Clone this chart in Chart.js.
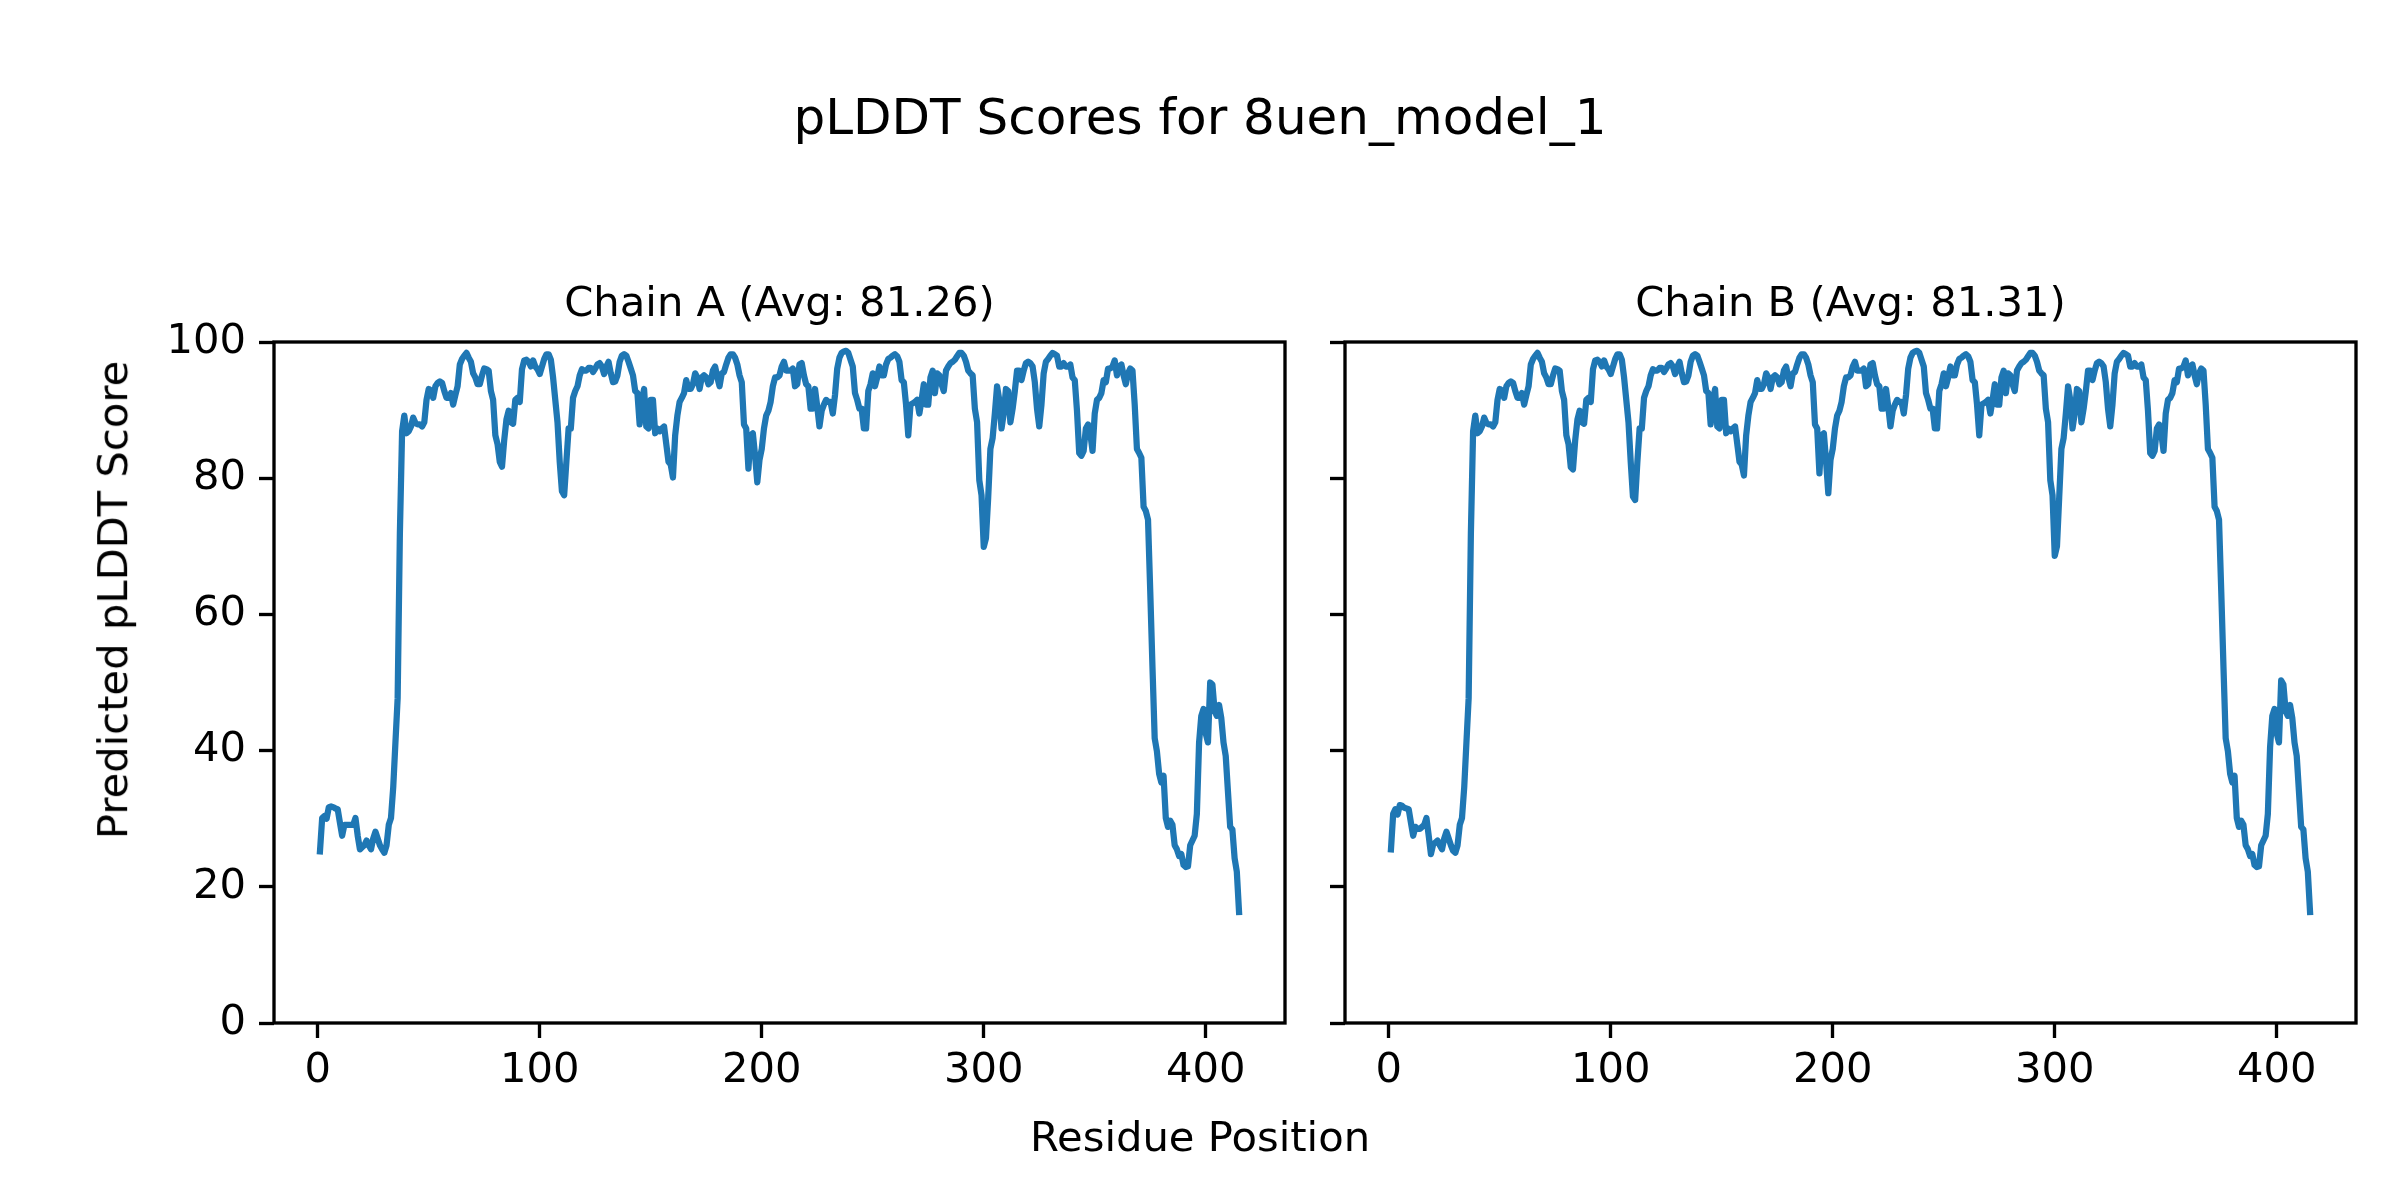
<!DOCTYPE html>
<html lang="en">
<head>
    <meta charset="UTF-8">
    <title>pLDDT Scores for 8uen_model_1</title>
    <script src="https://cdn.jsdelivr.net/npm/chart.js"></script>
</head>
<body>
<div id="figure">
    <div class="txt" id="suptitle">pLDDT Scores for 8uen_model_1</div>
    <div class="txt sub" id="titleA">Chain A (Avg: 81.26)</div>
    <div class="txt sub" id="titleB">Chain B (Avg: 81.31)</div>
    <div class="txt" id="xlabel">Residue Position</div>
    <div class="txt" id="ylabel">Predicted pLDDT Score</div>
    <canvas id="chartA" width="1320" height="1200"></canvas>
    <canvas id="chartB" width="1080" height="1200"></canvas>
</div>
<script>
    // pLDDT per residue (residues 1..415)
    const firstResidue = 1;
    const xTicks = [0, 100, 200, 300, 400];
    const yTicks = [0, 20, 40, 60, 80, 100];

    const chainA = [
        25.2, 30.1, 30.4, 30.0, 31.7, 31.8, 31.7, 31.5, 31.4, 29.4,
        27.5, 29.1, 29.1, 29.1, 29.1, 29.1, 30.1, 27.5, 25.5, 25.8,
        26.1, 26.8, 26.1, 25.5, 27.1, 28.1, 27.1, 26.1, 25.5, 25.0,
        26.1, 29.1, 30.1, 34.6, 41.2, 47.7, 71.9, 86.9, 89.2, 86.6,
        86.9, 87.6, 88.9, 88.1, 87.9, 87.9, 87.6, 88.2, 91.5, 93.1,
        92.9, 91.8, 93.5, 94.0, 94.2, 94.0, 92.8, 91.8, 91.8, 92.5,
        90.8, 92.2, 93.5, 96.7, 97.5, 98.0, 98.4, 97.7, 97.1, 95.4,
        94.8, 93.8, 93.8, 95.1, 96.1, 96.0, 95.8, 92.8, 91.5, 86.3,
        85.0, 82.4, 81.7, 85.6, 88.6, 89.9, 88.2, 88.0, 91.5, 91.8,
        91.2, 96.0, 97.3, 97.4, 97.1, 96.4, 97.3, 96.4, 96.0, 95.3,
        96.4, 97.5, 98.2, 98.2, 97.4, 94.8, 91.5, 88.2, 82.4, 78.1,
        77.5, 82.4, 87.3, 87.3, 91.8, 92.8, 93.5, 95.1, 96.0, 95.8,
        95.8, 96.2, 96.2, 95.6, 96.1, 96.7, 96.9, 96.4, 95.3, 96.4,
        97.1, 95.4, 94.1, 94.2, 95.1, 97.1, 98.0, 98.2, 98.0, 97.1,
        96.1, 95.1, 92.8, 92.5, 87.9, 91.2, 93.1, 87.6, 87.3, 91.5,
        91.5, 86.6, 87.3, 86.9, 87.3, 87.6, 85.0, 82.4, 82.0, 80.1,
        86.3, 89.2, 91.2, 91.8, 92.5, 94.4, 93.1, 93.1, 93.8, 95.4,
        94.8, 93.1, 94.8, 95.1, 94.8, 93.8, 94.1, 95.8, 96.4, 94.8,
        93.5, 95.4, 95.6, 96.7, 97.7, 98.2, 98.2, 97.7, 96.7, 95.1,
        94.1, 87.9, 87.3, 81.4, 86.3, 86.6, 83.3, 79.4, 82.7, 84.3,
        87.3, 89.2, 89.9, 91.2, 93.5, 94.8, 94.8, 95.1, 96.4, 97.1,
        95.8, 95.8, 95.8, 96.1, 93.5, 93.8, 96.7, 96.9, 95.1, 93.8,
        93.5, 90.2, 90.2, 93.1, 90.5, 87.6, 89.9, 90.8, 91.5, 91.2,
        91.2, 89.5, 92.2, 96.1, 97.7, 98.4, 98.6, 98.7, 98.4, 97.4,
        96.4, 92.5, 91.5, 90.2, 90.2, 87.3, 87.3, 92.8, 93.8, 95.4,
        93.5, 94.8, 96.4, 95.1, 95.1, 96.7, 97.5, 97.7, 98.0, 98.2,
        97.9, 97.1, 94.4, 94.1, 90.8, 86.3, 90.8, 91.0, 91.2, 91.5,
        89.5, 91.5, 93.8, 90.8, 90.8, 94.8, 95.8, 92.5, 95.4, 95.1,
        93.8, 92.8, 95.8, 96.4, 96.9, 97.1, 97.4, 97.9, 98.4, 98.4,
        98.0, 97.1, 95.8, 95.4, 95.1, 90.2, 88.2, 79.7, 77.5, 69.9,
        71.2, 77.1, 84.3, 85.9, 89.5, 93.5, 91.5, 87.3, 89.5, 93.1,
        92.8, 88.2, 90.2, 92.8, 95.8, 95.8, 94.4, 95.8, 96.9, 97.1,
        96.9, 96.4, 94.1, 90.2, 87.6, 90.8, 95.4, 97.1, 97.5, 98.0,
        98.4, 98.2, 98.0, 96.4, 96.4, 96.9, 96.4, 96.4, 96.7, 94.8,
        94.4, 89.9, 83.7, 83.3, 84.0, 87.3, 87.9, 86.6, 84.0, 89.5,
        91.5, 91.8, 92.5, 94.4, 94.1, 96.1, 96.1, 96.4, 97.3, 95.1,
        96.4, 96.7, 95.1, 93.8, 95.4, 96.1, 95.8, 90.8, 84.3, 83.7,
        83.0, 75.8, 75.2, 73.9, 63.4, 52.3, 41.8, 39.9, 36.6, 35.3,
        36.3, 30.1, 28.8, 29.7, 29.1, 26.1, 25.5, 24.5, 24.8, 23.2,
        22.9, 23.0, 26.1, 26.8, 27.5, 30.7, 41.2, 45.1, 46.1, 42.5,
        41.2, 50.0, 49.7, 45.8, 45.1, 46.7, 44.8, 41.2, 39.2, 34.0,
        28.8, 28.4, 24.2, 22.2, 16.3
    ];

    const chainB = [
        25.5, 30.7, 31.4, 30.6, 32.0, 31.9, 31.6, 31.5, 31.4, 29.4,
        27.5, 28.8, 28.5, 28.5, 28.8, 29.1, 30.1, 27.5, 24.8, 26.2,
        26.5, 26.8, 26.1, 25.5, 27.1, 28.1, 27.1, 26.1, 25.3, 25.0,
        26.1, 29.1, 30.1, 34.6, 41.2, 47.7, 71.9, 86.9, 89.2, 86.6,
        86.9, 87.6, 88.9, 88.1, 87.9, 87.9, 87.6, 88.2, 91.5, 93.1,
        92.9, 91.8, 93.5, 94.0, 94.2, 94.0, 92.8, 91.8, 91.8, 92.5,
        90.8, 92.2, 93.5, 96.7, 97.5, 98.0, 98.4, 97.7, 97.1, 95.4,
        94.8, 93.8, 93.8, 95.1, 96.1, 96.0, 95.8, 92.8, 91.5, 86.3,
        85.0, 81.6, 81.3, 85.6, 88.6, 89.9, 88.2, 88.0, 91.5, 91.8,
        91.2, 96.0, 97.3, 97.4, 97.1, 96.4, 97.3, 96.4, 96.0, 95.3,
        96.4, 97.5, 98.2, 98.2, 97.4, 94.8, 91.5, 88.2, 82.4, 77.3,
        76.8, 82.4, 87.3, 87.3, 91.8, 92.8, 93.5, 95.1, 96.0, 95.8,
        95.8, 96.2, 96.2, 95.6, 96.1, 96.7, 96.9, 96.4, 95.3, 96.4,
        97.1, 95.4, 94.1, 94.2, 95.1, 97.1, 98.0, 98.2, 98.0, 97.1,
        96.1, 95.1, 92.8, 92.5, 87.9, 91.2, 93.1, 87.6, 87.3, 91.5,
        91.5, 86.6, 87.3, 86.9, 87.3, 87.6, 85.0, 82.4, 82.0, 80.4,
        86.3, 89.2, 91.2, 91.8, 92.5, 94.4, 93.1, 93.1, 93.8, 95.4,
        94.8, 93.1, 94.8, 95.1, 94.8, 93.8, 94.1, 95.8, 96.4, 94.8,
        93.5, 95.4, 95.6, 96.7, 97.7, 98.2, 98.2, 97.7, 96.7, 95.1,
        94.1, 87.9, 87.3, 80.7, 86.3, 86.6, 82.5, 77.8, 82.7, 84.3,
        87.3, 89.2, 89.9, 91.2, 93.5, 94.8, 94.8, 95.1, 96.4, 97.1,
        95.8, 95.8, 95.8, 96.1, 93.5, 93.8, 96.7, 96.9, 95.1, 93.8,
        93.5, 90.2, 90.2, 93.1, 90.5, 87.6, 89.9, 90.8, 91.5, 91.2,
        91.2, 89.5, 92.2, 96.1, 97.7, 98.4, 98.6, 98.7, 98.4, 97.4,
        96.4, 92.5, 91.5, 90.2, 90.2, 87.3, 87.3, 92.8, 93.8, 95.4,
        93.5, 94.8, 96.4, 95.1, 95.1, 96.7, 97.5, 97.7, 98.0, 98.2,
        97.9, 97.1, 94.4, 94.1, 90.8, 86.3, 90.8, 91.0, 91.2, 91.5,
        89.5, 91.5, 93.8, 90.8, 90.8, 94.8, 95.8, 92.5, 95.4, 95.1,
        93.8, 92.8, 95.8, 96.4, 96.9, 97.1, 97.4, 97.9, 98.4, 98.4,
        98.0, 97.1, 95.8, 95.4, 95.1, 90.2, 88.2, 79.7, 77.5, 68.6,
        70.0, 77.1, 84.3, 85.9, 89.5, 93.5, 91.5, 87.3, 89.5, 93.1,
        92.8, 88.2, 90.2, 92.8, 95.8, 95.8, 94.4, 95.8, 96.9, 97.1,
        96.9, 96.4, 94.1, 90.2, 87.6, 90.8, 95.4, 97.1, 97.5, 98.0,
        98.4, 98.2, 98.0, 96.4, 96.4, 96.9, 96.4, 96.4, 96.7, 94.8,
        94.4, 89.9, 83.7, 83.3, 84.0, 87.3, 87.9, 86.6, 84.0, 89.5,
        91.5, 91.8, 92.5, 94.4, 94.1, 96.1, 96.1, 96.4, 97.3, 95.1,
        96.4, 96.7, 95.1, 93.8, 95.4, 96.1, 95.8, 90.8, 84.3, 83.7,
        83.0, 75.8, 75.2, 73.9, 63.4, 52.3, 41.8, 39.9, 36.6, 35.3,
        36.3, 30.1, 28.8, 29.7, 29.1, 26.1, 25.5, 24.5, 24.8, 23.2,
        22.9, 23.0, 26.1, 26.8, 27.5, 30.7, 40.5, 45.1, 46.1, 42.5,
        41.2, 50.3, 49.7, 45.8, 45.1, 46.7, 44.8, 41.2, 39.2, 34.0,
        28.8, 28.4, 24.2, 22.2, 16.3
    ];

    const FONT = "'DejaVu Sans', sans-serif";
    const TICK_FONT = 41.7;
    const SPINE = 3.33;

    // draw the full axes box over the line, like matplotlib spines
    const boxPlugin = {
        id: 'box',
        afterDatasetsDraw(chart) {
            const a = chart.chartArea;
            const ctx = chart.ctx;
            ctx.save();
            ctx.strokeStyle = '#000';
            ctx.lineWidth = SPINE;
            ctx.strokeRect(a.left, a.top, a.right - a.left, a.bottom - a.top);
            ctx.restore();
        }
    };

    function makeChart(id, scores, yAxisWidth, padRight, showYLabels) {
        const points = scores.map((v, i) => ({x: firstResidue + i, y: v}));
        return new Chart(document.getElementById(id), {
            type: 'line',
            data: {
                datasets: [{
                    data: points,
                    borderColor: '#1f77b4',
                    borderWidth: 6.25,
                    borderJoinStyle: 'round',
                    borderCapStyle: 'square',
                    pointRadius: 0,
                    tension: 0,
                    fill: false
                }]
            },
            options: {
                responsive: false,
                devicePixelRatio: 1,
                animation: false,
                layout: {padding: {left: 0, top: 342, right: padRight, bottom: 0}},
                plugins: {legend: {display: false}, tooltip: {enabled: false}},
                scales: {
                    x: {
                        type: 'linear',
                        min: -19.7,
                        max: 435.7,
                        afterBuildTicks: s => { s.ticks = xTicks.map(v => ({value: v})); },
                        afterFit: s => { s.height = 1200 - 1023; },
                        border: {display: false},
                        grid: {drawOnChartArea: false, drawTicks: true, tickLength: 15,
                               tickWidth: SPINE, tickColor: '#000', color: '#000'},
                        ticks: {color: '#000', padding: 8, maxRotation: 0,
                                font: {family: FONT, size: TICK_FONT},
                                callback: v => String(v)}
                    },
                    y: {
                        min: 0,
                        max: 100,
                        afterBuildTicks: s => { s.ticks = yTicks.map(v => ({value: v})); },
                        afterFit: s => { s.width = yAxisWidth; },
                        border: {display: false},
                        grid: {drawOnChartArea: false, drawTicks: true, tickLength: 15,
                               tickWidth: SPINE, tickColor: '#000', color: '#000'},
                        ticks: {display: showYLabels, color: '#000', padding: 13,
                                font: {family: FONT, size: TICK_FONT},
                                callback: v => String(v)}
                    }
                }
            },
            plugins: [boxPlugin]
        });
    }

    makeChart('chartA', chainA, 274, 35, true);
    makeChart('chartB', chainB, 25, 44, false);
</script>
</body>
</html>
<style>
    body {
        margin: 0;
        background: #fff;
    }

    #figure {
        position: relative;
        width: 2400px;
        height: 1200px;
        background: #fff;
        font-family: 'DejaVu Sans', sans-serif;
        color: #000;
    }

    canvas {
        position: absolute;
        top: 0;
    }

    #chartA { left: 0; width: 1320px; height: 1200px; }
    #chartB { left: 1320px; width: 1080px; height: 1200px; }

    .txt {
        position: absolute;
        line-height: 1;
        white-space: nowrap;
        z-index: 2;
    }

    #suptitle {
        font-size: 50px;
        left: 1200px;
        top: 92px;
        transform: translateX(-50%);
    }

    .sub {
        font-size: 41.7px;
        top: 281px;
        transform: translateX(-50%);
    }

    #titleA { left: 779.5px; }
    #titleB { left: 1850.5px; }

    #xlabel {
        font-size: 41.7px;
        left: 1200px;
        top: 1116px;
        transform: translateX(-50%);
    }

    #ylabel {
        font-size: 41.7px;
        left: 113px;
        top: 600px;
        transform: translate(-50%, -50%) rotate(-90deg);
    }
</style>
